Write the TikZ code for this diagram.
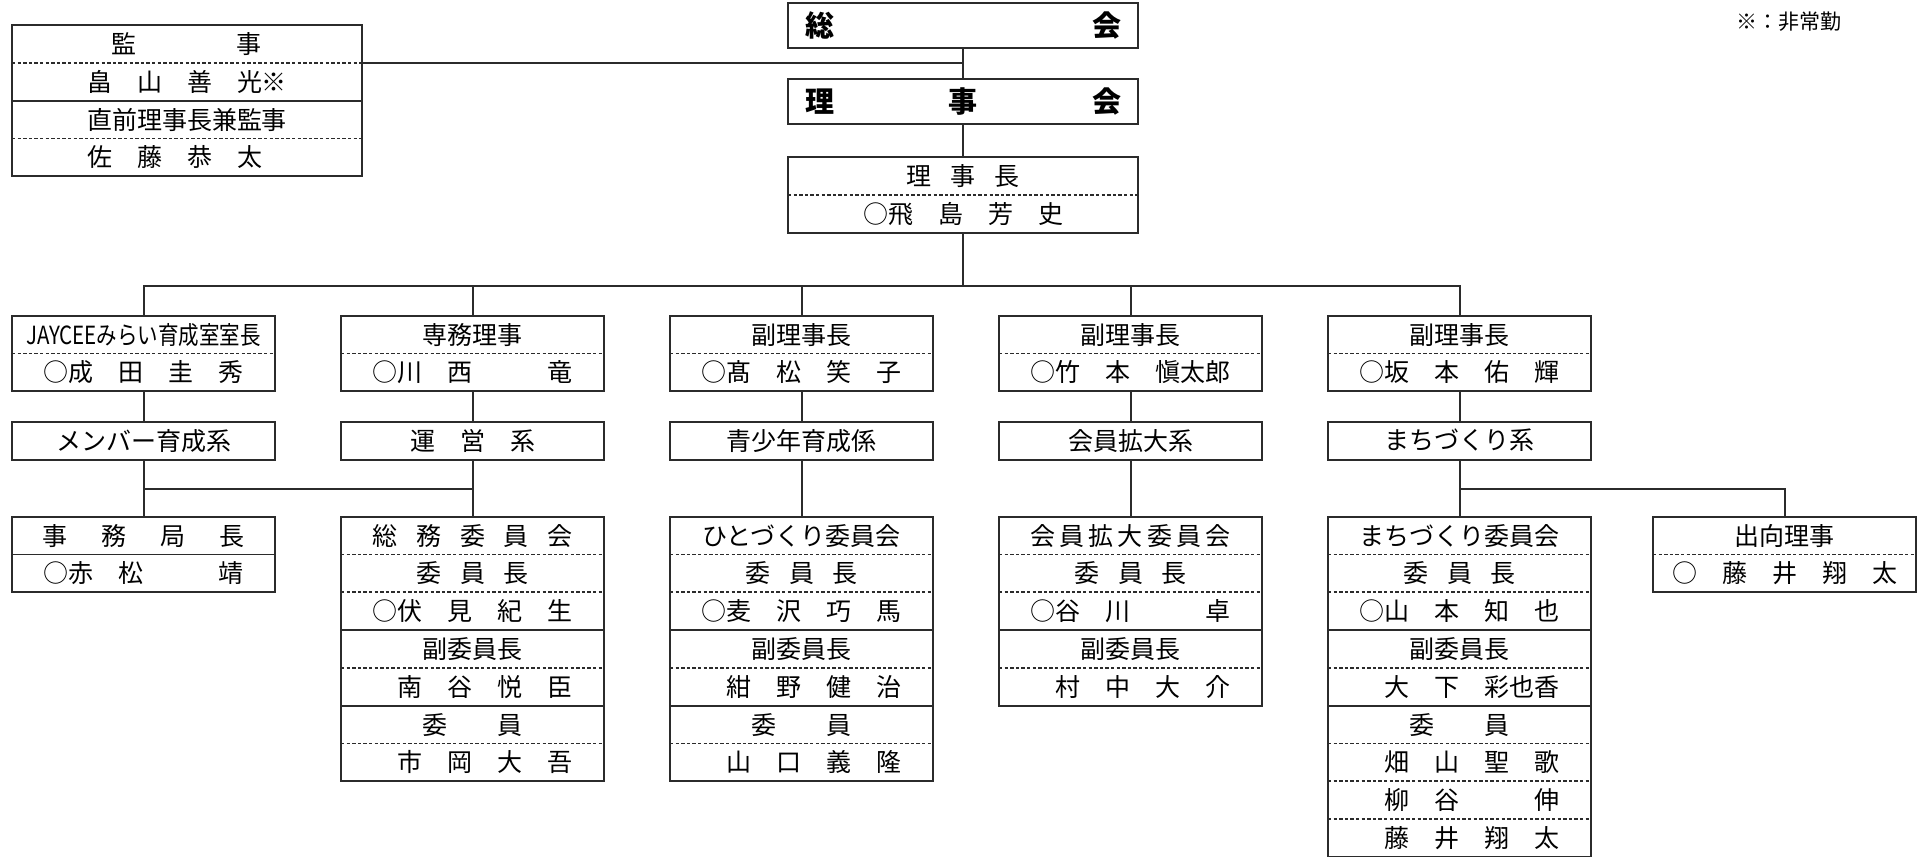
\documentclass[tikz,border=0pt]{standalone}
\usepackage{fontspec}
\setmainfont{Noto Sans CJK JP}
\usepackage{tikz}
\usetikzlibrary{positioning}

\definecolor{ink}{HTML}{2B2B2B}
\newcommand{\jgap}[1][.75em]{\hspace{#1}}

\tikzset{
  conn/.style={draw=ink, line width=1pt},
  boxline/.style={draw=ink, line width=1pt},
  sepd/.style={draw=ink, line width=.85pt, dash pattern=on 1.7pt off 1.1pt},
  seps/.style={draw=ink, line width=.9pt},
  cell/.style={minimum width=131.5pt, minimum height=18.9pt, inner sep=0pt, outer sep=0pt, anchor=north,
    text=black, font=\fontsize{12.5pt}{15pt}\selectfont},
  widecell/.style={cell, minimum width=175pt},
  kei/.style={cell, boxline},
  topbox/.style={widecell, boxline, minimum height=22.7pt, font=\fontsize{14.5pt}{17pt}\selectfont\bfseries},
  dsep/.style={append after command={(\tikzlastnode.south west) edge[sepd] (\tikzlastnode.south east)}},
  ssep/.style={append after command={(\tikzlastnode.south west) edge[seps] (\tikzlastnode.south east)}}
}

\begin{document}
\begin{tikzpicture}[x=0.5pt, y=-0.5pt]
	\useasboundingbox (0,0) rectangle (1924,857);

	% top of the tree
	\node[topbox] (soukai) at (963,3) {\makebox[158pt][s]{総\hfill 会}};
	\node[topbox] (rijikai) at (963,79) {\makebox[158pt][s]{理\hfill 事\hfill 会}};
	\node[widecell, dsep] (rijicho) at (963,157) {理\jgap 事\jgap 長};
	\node[widecell, below=0pt of rijicho] (rijichoN) {○飛　島　芳　史};
	\draw[boxline] (rijicho.north west) rectangle (rijichoN.south east);

	\node[widecell, dsep] (kanji) at (187,25) {監　　　　事};
	\node[widecell, ssep, below=0pt of kanji] (kanjiN) {畠　山　善　光※};
	\node[widecell, dsep, below=0pt of kanjiN] (zenri) {直前理事長兼監事};
	\node[widecell, below=0pt of zenri] (zenriN) {佐　藤　恭　太　};
	\draw[boxline] (kanji.north west) rectangle (zenriN.south east);

	\node[font=\fontsize{10.5pt}{12pt}\selectfont] (note) at (1789,22) {※：非常勤};

	% directors
	\node[cell, dsep] (jc) at (143.5,315.7) {\scalebox{.82}[1]{JAYCEEみらい育成室室長}};
	\node[cell, below=0pt of jc] (jcN) {○成　田　圭　秀};
	\node[cell, dsep, right=33pt of jc] (senmu) {専務理事};
	\node[cell, below=0pt of senmu] (senmuN) {○川　西　　　竜};
	\node[cell, dsep, right=33pt of senmu] (fuku1) {副理事長};
	\node[cell, below=0pt of fuku1] (fuku1N) {○髙　松　笑　子};
	\node[cell, dsep, right=33pt of fuku1] (fuku2) {副理事長};
	\node[cell, below=0pt of fuku2] (fuku2N) {○竹　本　愼太郎};
	\node[cell, dsep, right=33pt of fuku2] (fuku3) {副理事長};
	\node[cell, below=0pt of fuku3] (fuku3N) {○坂　本　佑　輝};
	\draw[boxline] (jc.north west) rectangle (jcN.south east);
	\draw[boxline] (senmu.north west) rectangle (senmuN.south east);
	\draw[boxline] (fuku1.north west) rectangle (fuku1N.south east);
	\draw[boxline] (fuku2.north west) rectangle (fuku2N.south east);
	\draw[boxline] (fuku3.north west) rectangle (fuku3N.south east);

	% groups
	\node[kei, below=15.2pt of jcN] (member) {メンバー育成系};
	\node[kei, below=15.2pt of senmuN] (unei) {運　営　系};
	\node[kei, below=15.2pt of fuku1N] (seisho) {青少年育成係};
	\node[kei, below=15.2pt of fuku2N] (kakudai) {会員拡大系};
	\node[kei, below=15.2pt of fuku3N] (machi) {まちづくり系};

	% committees
	\node[cell, ssep, below=28.6pt of member] (jimu) {事\jgap[1.36em]務\jgap[1.36em]局\jgap[1.36em]長};
	\node[cell, below=0pt of jimu] (jimuN) {○赤　松　　　靖};
	\draw[boxline] (jimu.north west) rectangle (jimuN.south east);

	\node[cell, dsep, below=28.6pt of unei] (s1) {総\jgap 務\jgap 委\jgap 員\jgap 会};
	\node[cell, dsep, below=0pt of s1] (s2) {委\jgap 員\jgap 長};
	\node[cell, ssep, below=0pt of s2] (s3) {○伏　見　紀　生};
	\node[cell, dsep, below=0pt of s3] (s4) {副委員長};
	\node[cell, ssep, below=0pt of s4] (s5) {　南　谷　悦　臣};
	\node[cell, dsep, below=0pt of s5] (s6) {委　　員};
	\node[cell, below=0pt of s6] (s7) {　市　岡　大　吾};
	\draw[boxline] (s1.north west) rectangle (s7.south east);

	\node[cell, dsep, below=28.6pt of seisho] (h1) {ひとづくり委員会};
	\node[cell, dsep, below=0pt of h1] (h2) {委\jgap 員\jgap 長};
	\node[cell, ssep, below=0pt of h2] (h3) {○麦　沢　巧　馬};
	\node[cell, dsep, below=0pt of h3] (h4) {副委員長};
	\node[cell, ssep, below=0pt of h4] (h5) {　紺　野　健　治};
	\node[cell, dsep, below=0pt of h5] (h6) {委　　員};
	\node[cell, below=0pt of h6] (h7) {　山　口　義　隆};
	\draw[boxline] (h1.north west) rectangle (h7.south east);

	\node[cell, dsep, below=28.6pt of kakudai] (k1) {会\jgap[.17em]員\jgap[.17em]拡\jgap[.17em]大\jgap[.17em]委\jgap[.17em]員\jgap[.17em]会};
	\node[cell, dsep, below=0pt of k1] (k2) {委\jgap 員\jgap 長};
	\node[cell, ssep, below=0pt of k2] (k3) {○谷　川　　　卓};
	\node[cell, dsep, below=0pt of k3] (k4) {副委員長};
	\node[cell, below=0pt of k4] (k5) {　村　中　大　介};
	\draw[boxline] (k1.north west) rectangle (k5.south east);

	\node[cell, dsep, below=28.6pt of machi] (m1) {まちづくり委員会};
	\node[cell, dsep, below=0pt of m1] (m2) {委\jgap 員\jgap 長};
	\node[cell, ssep, below=0pt of m2] (m3) {○山　本　知　也};
	\node[cell, dsep, below=0pt of m3] (m4) {副委員長};
	\node[cell, ssep, below=0pt of m4] (m5) {　大　下　彩也香};
	\node[cell, dsep, below=0pt of m5] (m6) {委　　員};
	\node[cell, dsep, below=0pt of m6] (m7) {　畑　山　聖　歌};
	\node[cell, dsep, below=0pt of m7] (m8) {　柳　谷　　　伸};
	\node[cell, below=0pt of m8] (m9) {　藤　井　翔　太};
	\draw[boxline] (m1.north west) rectangle (m9.south east);

	\node[cell, dsep, right=31pt of m1] (sk1) {出向理事};
	\node[cell, below=0pt of sk1] (sk2) {○　藤　井　翔　太};
	\draw[boxline] (sk1.north west) rectangle (sk2.south east);

	% connectors
	\coordinate (bus2) at (963,286);
	\coordinate (bus3) at (0,489);
	\draw[conn] (soukai) -- (rijikai);
	\draw[conn] (rijikai) -- (rijicho);
	\draw[conn] (kanji.south east) -- (kanji.south east -| soukai.south);
	\draw[conn] (rijichoN) -- (bus2);
	\draw[conn] (jc.north) |- (bus2) -| (fuku3.north);
	\draw[conn] (senmu.north) -- (senmu.north |- bus2);
	\draw[conn] (fuku1.north) -- (fuku1.north |- bus2);
	\draw[conn] (fuku2.north) -- (fuku2.north |- bus2);
	\draw[conn] (jcN) -- (member);
	\draw[conn] (senmuN) -- (unei);
	\draw[conn] (fuku1N) -- (seisho);
	\draw[conn] (fuku2N) -- (kakudai);
	\draw[conn] (fuku3N) -- (machi);
	\draw[conn] (member) -- (jimu);
	\draw[conn] (unei) -- (s1);
	\draw[conn] (member |- bus3) -- (unei |- bus3);
	\draw[conn] (seisho) -- (h1);
	\draw[conn] (kakudai) -- (k1);
	\draw[conn] (machi) -- (m1);
	\draw[conn] (machi |- bus3) -| (sk1.north);
\end{tikzpicture}
\end{document}
